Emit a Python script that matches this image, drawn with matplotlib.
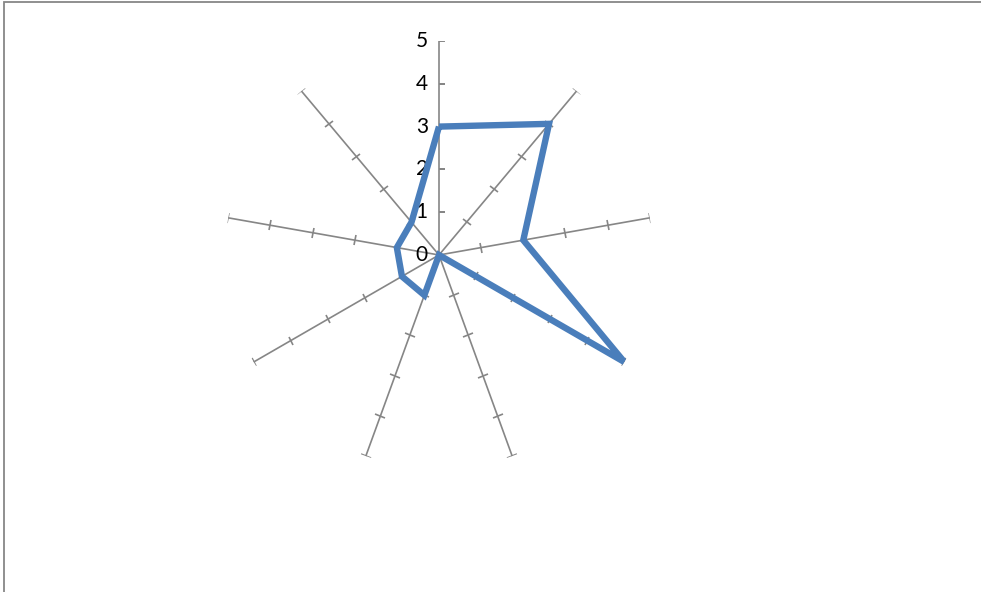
import numpy as np
import matplotlib
matplotlib.use("Agg")
import matplotlib.pyplot as plt
from matplotlib.markers import MarkerStyle, TICKRIGHT
from matplotlib.transforms import Affine2D
from matplotlib.patches import Rectangle

categories = ["1", "2", "3", "4", "5", "6", "7", "8", "9"]
values = [3, 4, 2, 5, 0, 1, 1, 1, 1]
tick_values = [0, 1, 2, 3, 4, 5]
r_max = 5

W, H = 981, 592
fig = plt.figure(figsize=(W / 100, H / 100), dpi=100)
fig.patch.set_facecolor("white")

# chart-area border (extends past right/bottom edges)
fig.patches.append(Rectangle((3.5 / W, -0.1), 1.2, 1 - 1.5 / H + 0.1,
                             transform=fig.transFigure, fill=False,
                             edgecolor="#878787", linewidth=1.3))

cx, cy, R = 439, 255, 214
ax = fig.add_axes([(cx - R) / W, (H - cy - R) / H, 2 * R / W, 2 * R / H],
                  projection="polar")
ax.set_theta_zero_location("N")
ax.set_theta_direction(-1)
ax.set_ylim(0, r_max)
ax.grid(False)
ax.set_xticks([])
ax.set_yticks([])
ax.spines["polar"].set_visible(False)
ax.patch.set_alpha(0)

n = len(categories)
thetas = np.arange(n) * 2 * np.pi / n
spoke_col = "#868686"
ticks = np.array(tick_values[1:], dtype=float)

for i, th in enumerate(thetas):
    ax.plot([th, th], [0, r_max], color=spoke_col, lw=1.2, zorder=1)
    math_deg = 90 - np.degrees(th)
    if i == 0:
        m = MarkerStyle(TICKRIGHT)
        ms = 4.6
    else:
        m = MarkerStyle("|", transform=Affine2D().rotate_deg(math_deg))
        ms = 7.0
    ax.plot(np.full(len(ticks), th), ticks, linestyle="none", marker=m,
            markersize=ms, markeredgecolor=spoke_col, markeredgewidth=1.2,
            zorder=1)

# value labels on first spoke
for v in tick_values:
    ax.annotate(str(v), xy=(0, v), xytext=(-8, 0), textcoords="offset points",
                ha="right", va="center", fontsize=15, family=["Lato", "DejaVu Sans"],
                color="black", zorder=2)

th_c = np.append(thetas, thetas[0])
v_c = np.append(values, values[0])
ax.plot(th_c, v_c, color="#4A7EBB", lw=4.6, solid_joinstyle="miter",
        solid_capstyle="butt", zorder=3)

fig.savefig("out.png", dpi=100)
